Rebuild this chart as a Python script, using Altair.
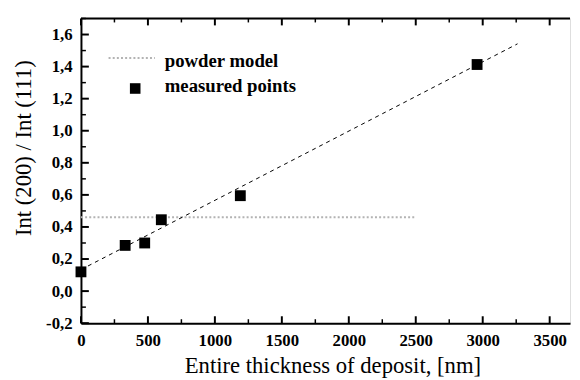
import altair as alt
import pandas as pd

# measured points
thickness = [0, 330, 476, 600, 1190, 2958]
ratio = [0.12, 0.285, 0.30, 0.445, 0.595, 1.413]

# powder model (horizontal reference)
powder_x = [0, 2500]
powder_y = [0.46, 0.46]

# linear fit line endpoints
fit_x = [0, 3260]
fit_y = [0.134, 1.542]

x_major = [0, 500, 1000, 1500, 2000, 2500, 3000, 3500]
x_minor = [250, 750, 1250, 1750, 2250, 2750, 3250]
y_major = [-0.2, 0.0, 0.2, 0.4, 0.6, 0.8, 1.0, 1.2, 1.4, 1.6]
y_minor = [-0.1, 0.1, 0.3, 0.5, 0.7, 0.9, 1.1, 1.3, 1.5, 1.7]

legend_labels = ["powder model", "measured points"]

W, H = 496, 309
FONT = "Liberation Serif"

xs = alt.Scale(domain=[0, 3652], nice=False, zero=False)
ys = alt.Scale(domain=[-0.2, 1.7], nice=False, zero=False)

x_axis = alt.Axis(values=x_major, format="d", tickSize=0, labelPadding=10,
                  labelOverlap=False, labelFlush=False,
                  domainWidth=2, domainColor="black", grid=False,
                  labelFont=FONT, labelFontSize=17, labelFontWeight="bold",
                  labelColor="black", title="Entire thickness of deposit, [nm]",
                  titleFont=FONT, titleFontSize=23, titleFontWeight="normal",
                  titleColor="black", titleX=255, titleY=50,
                  titleBaseline="alphabetic", titleAlign="center")
y_axis = alt.Axis(values=y_major, tickSize=0, labelPadding=9,
                  labelOverlap=False, labelFlush=False,
                  labelExpr="replace(replace(format(datum.value, '.1f'), '.', ','), '\u2212', '-')",
                  domainWidth=2, domainColor="black", grid=False,
                  labelFont=FONT, labelFontSize=17, labelFontWeight="bold",
                  labelColor="black", title="Int (200) / Int (111)",
                  titleFont=FONT, titleFontSize=23, titleFontWeight="normal",
                  titleColor="black", titleAngle=-90, titleX=-58, titleY=131,
                  titleBaseline="middle", titleAlign="center")

def X(field):
    return alt.X(field, type="quantitative", scale=xs, axis=x_axis)

def Y(field):
    return alt.Y(field, type="quantitative", scale=ys, axis=y_axis)

pts = pd.DataFrame({"x": thickness, "y": ratio})
powder = pd.DataFrame({"x": powder_x, "y": powder_y})
fit = pd.DataFrame({"x": fit_x, "y": fit_y})

powder_layer = alt.Chart(powder).mark_line(
    color="#b3b3b3", strokeWidth=2, strokeDash=[2, 2.2]
).encode(x=X("x"), y=Y("y"))

fit_layer = alt.Chart(fit).mark_line(
    color="black", strokeWidth=1, strokeDash=[4, 4]
).encode(x=X("x"), y=Y("y"))

pts_layer = alt.Chart(pts).mark_square(
    size=121, color="black", opacity=1, filled=True
).encode(x=X("x"), y=Y("y"))

# inward ticks
xmaj = pd.DataFrame({"v": x_major})
xmin = pd.DataFrame({"v": x_minor})
ymaj = pd.DataFrame({"v": y_major})
ymin = pd.DataFrame({"v": y_minor})

def xticks(df, length, width):
    b = alt.Chart(df).mark_rule(color="black", strokeWidth=width).encode(
        x=X("v"), y=alt.value(H), y2=alt.value(H - length))
    t = alt.Chart(df).mark_rule(color="black", strokeWidth=width).encode(
        x=X("v"), y=alt.value(0), y2=alt.value(length))
    return b + t

def yticks(df, length, width):
    return alt.Chart(df).mark_rule(color="black", strokeWidth=width).encode(
        y=Y("v"), x=alt.value(0), x2=alt.value(length))

top_line = alt.Chart(pd.DataFrame({"a": [0]})).mark_rule(
    color="black", strokeWidth=2).encode(x=alt.value(0), x2=alt.value(W), y=alt.value(0))

# legend
leg_line = alt.Chart(pd.DataFrame({"a": [0]})).mark_rule(
    color="#b3b3b3", strokeWidth=2, strokeDash=[2, 2.2]
).encode(x=alt.value(28), x2=alt.value(75), y=alt.value(40))
leg_sq = alt.Chart(pd.DataFrame({"a": [0]})).mark_square(
    size=115, color="black", opacity=1, filled=True
).encode(x=alt.value(55), y=alt.value(71))
leg_text = alt.Chart(pd.DataFrame({"label": legend_labels, "yy": [49.5, 74.7]})).mark_text(
    font=FONT, fontSize=19, fontWeight="bold", align="left", baseline="alphabetic",
    color="black"
).encode(x=alt.value(85), y=alt.Y("yy:Q", scale=None), text="label:N")

chart = alt.layer(
    powder_layer, fit_layer, pts_layer,
    xticks(xmaj, 7, 2), xticks(xmin, 4, 1.5),
    yticks(ymaj, 8, 2), yticks(ymin, 5, 1.5),
    top_line, leg_line, leg_sq, leg_text,
).properties(
    width=W, height=H,
    autosize=alt.AutoSizeParams(type="none"),
    padding={"left": 74, "top": 8, "right": 2, "bottom": 55},
).configure_view(stroke=None).configure(background="white", font=FONT)

chart.save("out.html", embed_options={"renderer": "svg", "actions": False})
